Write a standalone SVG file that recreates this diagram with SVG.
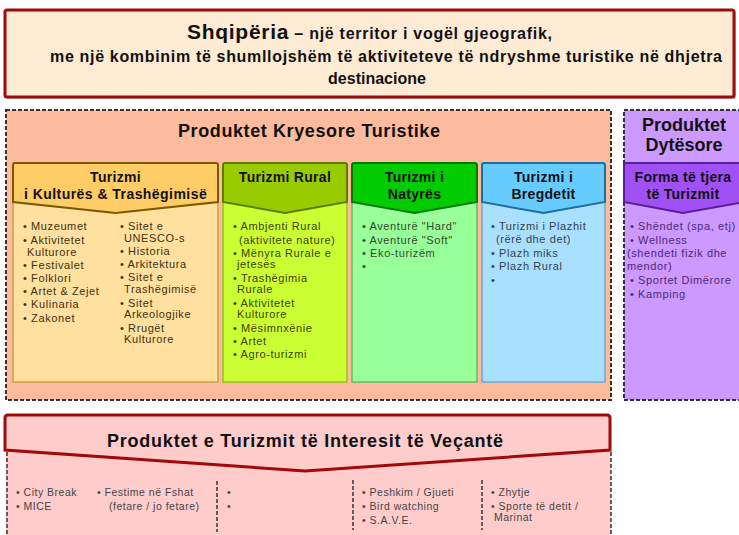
<svg xmlns="http://www.w3.org/2000/svg" width="739" height="535" viewBox="0 0 739 535">
<defs>
<style>
text{font-family:"Liberation Sans",Arial,sans-serif;}
.ttl{font-weight:bold;fill:#111;}
.hd{font-weight:bold;font-size:14px;fill:#111;text-anchor:middle;letter-spacing:0.3px;}
.it{font-size:11px;letter-spacing:0.6px;}
.bt{font-size:10.5px;letter-spacing:0.5px;fill:#444;}
.dash{stroke:#333;stroke-width:2;stroke-dasharray:4 2;}
.sep{stroke:#333;stroke-width:1.5;stroke-dasharray:4 2;fill:none;}
</style>
</defs>
<rect width="739" height="535" fill="#ffffff"/>
<g id="banner">
<rect x="7" y="12" width="729" height="87" fill="#c8c8c8"/>
<rect x="5" y="10" width="729" height="87" fill="#FDEBD4" stroke="#9E0B0B" stroke-width="3" rx="2"/>
<text x="369.5" y="39" class="ttl" text-anchor="middle" textLength="365"><tspan font-size="21">Shqipëria</tspan><tspan font-size="16"> – një territor i vogël gjeografik,</tspan></text>
<text x="386" y="62" class="ttl" font-size="16" text-anchor="middle" textLength="672">me një kombinim të shumllojshëm të aktiviteteve të ndryshme turistike në dhjetra</text>
<text x="377" y="84" class="ttl" font-size="16" text-anchor="middle">destinacione</text>
</g>
<g id="primary-products">
<rect x="6" y="110" width="605" height="290" fill="#FCBB9C" class="dash"/>
<text x="309" y="137" class="ttl" font-size="18" text-anchor="middle" textLength="262">Produktet Kryesore Turistike</text>
</g>
<g id="secondary-products">
<rect x="624" y="110" width="130" height="290" fill="#CC99FF" class="dash"/>
<text x="684" y="131" class="ttl" font-size="18" text-anchor="middle">Produktet</text>
<text x="684" y="151" class="ttl" font-size="18" text-anchor="middle">Dytësore</text>
</g>
<g id="culture">
<rect x="13" y="195" width="205" height="187" fill="#FFE09F" stroke="#C9A24A" stroke-width="1.5"/>
<path d="M13 165 Q13 163 15 163 H216 Q218 163 218 165 V202 L115.5 213 L13 202 Z" fill="#FFCC66" stroke="#7A5A00" stroke-width="2"/>
<text x="115.5" y="182" class="hd">Turizmi</text>
<text x="115.5" y="199" class="hd" textLength="183">i Kulturës &amp; Trashëgimisë</text>
<text class="it" fill="#3F3010"><tspan x="23" y="230">• Muzeumet</tspan><tspan x="23" y="244">• Aktivitetet</tspan><tspan x="27" y="256">Kulturore</tspan><tspan x="23" y="269">• Festivalet</tspan><tspan x="23" y="282">• Folklori</tspan><tspan x="23" y="295">• Artet &amp; Zejet</tspan><tspan x="23" y="308">• Kulinaria</tspan><tspan x="23" y="322">• Zakonet</tspan></text>
<text class="it" fill="#3F3010"><tspan x="120" y="230">• Sitet e</tspan><tspan x="124" y="242">UNESCO-s</tspan><tspan x="120" y="255">• Historia</tspan><tspan x="120" y="268">• Arkitektura</tspan><tspan x="120" y="281">• Sitet e</tspan><tspan x="124" y="293">Trashëgimisë</tspan><tspan x="120" y="307">• Sitet</tspan><tspan x="124" y="318">Arkeologjike</tspan><tspan x="120" y="332">• Rrugët</tspan><tspan x="124" y="343">Kulturore</tspan></text>
</g>
<g id="rural">
<rect x="223" y="195" width="124" height="187" fill="#CCFF33" stroke="#9ABF20" stroke-width="1.5"/>
<path d="M223 165 Q223 163 225 163 H345 Q347 163 347 165 V202 L285 213 L223 202 Z" fill="#99CC00" stroke="#5E7D00" stroke-width="2"/>
<text x="285" y="182" class="hd">Turizmi Rural</text>
<text class="it" fill="#3A4200"><tspan x="233" y="230">• Ambjenti Rural</tspan><tspan x="239" y="244">(aktivitete nature)</tspan><tspan x="233" y="257">• Mënyra Rurale e</tspan><tspan x="237" y="268">jetesës</tspan><tspan x="233" y="282">• Trashëgimia</tspan><tspan x="237" y="293">Rurale</tspan><tspan x="233" y="307">• Aktivitetet</tspan><tspan x="237" y="318">Kulturore</tspan><tspan x="233" y="332">• Mësimnxënie</tspan><tspan x="233" y="345">• Artet</tspan><tspan x="233" y="358">• Agro-turizmi</tspan></text>
</g>
<g id="nature">
<rect x="352" y="195" width="125" height="187" fill="#99FF99" stroke="#5FBF5F" stroke-width="1.5"/>
<path d="M352 165 Q352 163 354 163 H475 Q477 163 477 165 V202 L414.5 213 L352 202 Z" fill="#00CC00" stroke="#007A00" stroke-width="2"/>
<text x="414.5" y="182" class="hd">Turizmi i</text>
<text x="414.5" y="199" class="hd">Natyrës</text>
<text class="it" fill="#2F4A2F"><tspan x="362" y="230">• Aventurë "Hard"</tspan><tspan x="362" y="244">• Aventurë "Soft"</tspan><tspan x="362" y="257">• Eko-turizëm</tspan><tspan x="362" y="270">•</tspan></text>
</g>
<g id="coast">
<rect x="482" y="195" width="123" height="187" fill="#AAE0FF" stroke="#6FA8CF" stroke-width="1.5"/>
<path d="M482 165 Q482 163 484 163 H603 Q605 163 605 165 V202 L543.5 213 L482 202 Z" fill="#66CCFF" stroke="#1F6E9E" stroke-width="2"/>
<text x="543.5" y="182" class="hd">Turizmi i</text>
<text x="543.5" y="199" class="hd">Bregdetit</text>
<text class="it" fill="#33404C"><tspan x="491" y="230">• Turizmi i Plazhit</tspan><tspan x="496" y="243">(rërë dhe det)</tspan><tspan x="491" y="257">• Plazh miks</tspan><tspan x="491" y="270">• Plazh Rural</tspan><tspan x="491" y="284">•</tspan></text>
</g>
<g id="other-forms">
<path d="M624 165 Q624 163 626 163 H745 V202 L683 213 L624 202 Z" fill="#A050F5" stroke="#5A1E96" stroke-width="2"/>
<text x="683" y="182" class="hd">Forma të tjera</text>
<text x="683" y="199" class="hd">të Turizmit</text>
<text class="it" fill="#4A2A78"><tspan x="630" y="230">• Shëndet (spa, etj)</tspan><tspan x="630" y="244">• Wellness</tspan><tspan x="627" y="257">(shendeti fizik dhe</tspan><tspan x="627" y="270">mendor)</tspan><tspan x="630" y="284">• Sportet Dimërore</tspan><tspan x="630" y="298">• Kamping</tspan></text>
</g>
<g id="special-interest">
<rect x="6" y="450" width="605" height="90" fill="#FFCCCC"/>
<path d="M7 452 V535 M611 452 V535" class="sep" stroke-width="2"/>
<path d="M5 418 Q5 415 8 415 H607 Q610 415 610 418 V450 L305 471 L5 450 Z" fill="#FFCCCC" stroke="#A00A0A" stroke-width="3"/>
<text x="305" y="447" class="ttl" font-size="18" text-anchor="middle" textLength="396">Produktet e Turizmit të Interesit të Veçantë</text>
<path d="M217 481 V532 M353 480 V530 M482 480 V530" class="sep"/>
<text class="bt"><tspan x="16" y="496">• City Break</tspan><tspan x="16" y="510">• MICE</tspan></text>
<text class="bt"><tspan x="97" y="496">• Festime në Fshat</tspan><tspan x="109" y="510">(fetare / jo fetare)</tspan></text>
<text class="bt"><tspan x="227" y="496">•</tspan><tspan x="227" y="510">•</tspan></text>
<text class="bt"><tspan x="362" y="496">• Peshkim / Gjueti</tspan><tspan x="362" y="510">• Bird watching</tspan><tspan x="362" y="524">• S.A.V.E.</tspan></text>
<text class="bt"><tspan x="491" y="496">• Zhytje</tspan><tspan x="491" y="510">• Sporte të detit  /</tspan><tspan x="494" y="521">Marinat</tspan></text>
</g>
<g id="connectors"/>
</svg>
